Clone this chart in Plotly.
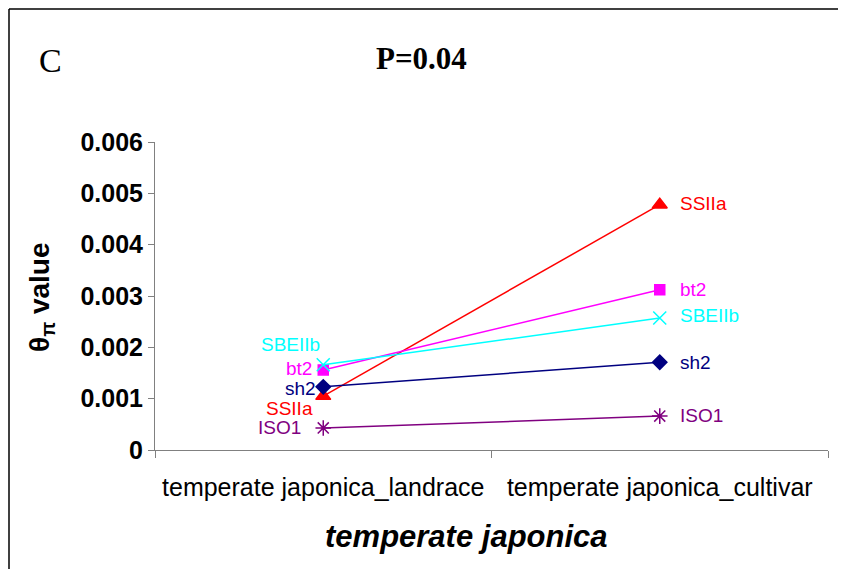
import plotly.graph_objects as go

categories = ["temperate japonica_landrace", "temperate japonica_cultivar"]
series_names = ["SSIIa", "bt2", "SBEIIb", "sh2", "ISO1"]
ssiia = [0.00105, 0.00478]
bt2 = [0.00156, 0.00312]
sbeiib = [0.00166, 0.00257]
sh2 = [0.00123, 0.00171]
iso1 = [0.00043, 0.00066]
y_ticks = [0, 0.001, 0.002, 0.003, 0.004, 0.005, 0.006]
y_tick_labels = ["0", "0.001", "0.002", "0.003", "0.004", "0.005", "0.006"]

values = [ssiia, bt2, sbeiib, sh2, iso1]
colors = ["#FF0000", "#FF00FF", "#00FFFF", "#000080", "#800080"]
symbols = ["triangle-up", "square", "x-thin-open", "diamond", "asterisk-open"]
sizes = [13, 10, 13, 11, 13]
# label offsets (pixels) for left (landrace) and right (cultivar) labels
left_shift = [(-8, -12), (-9, 1), (-1, 20), (-5, -2), (-20, 0)]
right_shift = [(18, 1), (18, 0), (18, 3), (18, 0), (18, 1)]

fig = go.Figure()
for name, vals, c, s, sz in zip(series_names, values, colors, symbols, sizes):
    fig.add_trace(go.Scatter(
        x=categories, y=vals, mode="lines+markers", name=name,
        line=dict(color=c, width=1.5),
        marker=dict(symbol=s, size=sz, color=c, line=dict(color=c, width=1.5)),
        showlegend=False,
    ))

label_font = "Liberation Sans, Arial"
annotations = []
for name, vals, c, ls, rs in zip(series_names, values, colors, left_shift, right_shift):
    annotations.append(dict(x=categories[0], y=vals[0], xref="x", yref="y", text=name,
                            showarrow=False, xanchor="right", yanchor="middle",
                            xshift=ls[0], yshift=ls[1],
                            font=dict(family=label_font, size=19, color=c)))
    annotations.append(dict(x=categories[1], y=vals[1], xref="x", yref="y", text=name,
                            showarrow=False, xanchor="left", yanchor="middle",
                            xshift=rs[0], yshift=rs[1],
                            font=dict(family=label_font, size=19, color=c)))

OFF = 8  # page body margin
W, H = 846 - OFF, 569 - OFF
L, R, T, B = 155 - OFF, 18, 142 - OFF, 119
pw, ph = W - L - R, H - T - B

def px(xp):
    return (xp - OFF - L) / pw

def py(yp):
    return (H - B - (yp - OFF)) / ph

annotations += [
    dict(x=px(50), y=py(60), xref="paper", yref="paper", text="C", showarrow=False,
         xanchor="center", yanchor="middle",
         font=dict(family="Liberation Serif, Times New Roman", size=34, color="black")),
    dict(x=px(421), y=py(58), xref="paper", yref="paper", text="<b>P=0.04</b>", showarrow=False,
         xanchor="center", yanchor="middle",
         font=dict(family="Liberation Serif, Times New Roman", size=31, color="black")),
    dict(x=px(41), y=py(297), xref="paper", yref="paper", text="<b>θ<sub>π</sub> value</b>",
         showarrow=False, textangle=-90, xanchor="center", yanchor="middle",
         font=dict(family=label_font, size=28, color="black")),
    dict(x=px(466), y=py(536), xref="paper", yref="paper", text="<b><i>temperate japonica</i></b>",
         showarrow=False, xanchor="center", yanchor="middle",
         font=dict(family=label_font, size=31, color="black")),
]

fig.update_layout(
    width=W, height=H,
    margin=dict(l=L, r=R, t=T, b=B, pad=0),
    paper_bgcolor="white", plot_bgcolor="white",
    annotations=annotations,
    shapes=[
        dict(type="line", xref="paper", yref="paper", x0=px(9), x1=px(900), y0=py(9), y1=py(9),
             line=dict(color="black", width=1.5)),
        dict(type="line", xref="paper", yref="paper", x0=px(9), x1=px(9), y0=py(9), y1=py(620),
             line=dict(color="black", width=1.5)),
    ],
    xaxis=dict(type="category", range=[-0.5, 1.5], tickson="boundaries", ticks="outside",
               ticklen=7, tickcolor="#808080", showline=True, linecolor="#808080", linewidth=1,
               showgrid=False, zeroline=False, ticklabelstandoff=15,
               tickfont=dict(family=label_font, size=25, color="black")),
    yaxis=dict(range=[0, 0.006], tickvals=y_ticks, ticktext=y_tick_labels, ticks="outside",
               ticklen=6, tickcolor="#808080", showline=True, linecolor="#808080", linewidth=1,
               showgrid=False, zeroline=False,
               tickfont=dict(family=label_font, size=25, color="black", weight="bold")),
)

fig.write_html("out.html")
